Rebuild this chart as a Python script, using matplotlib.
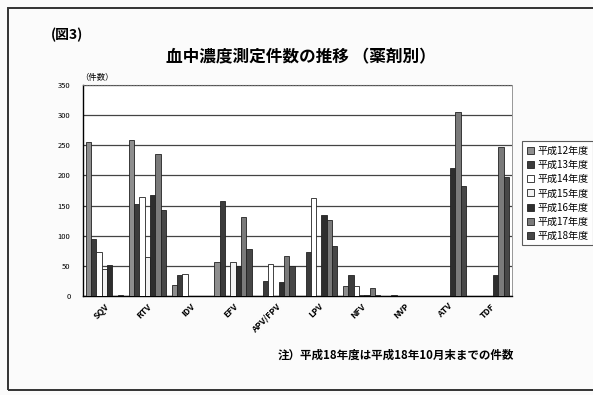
import numpy as np
import matplotlib as mpl
mpl.use('Agg')
from matplotlib import pyplot as plt
from matplotlib.patches import Rectangle

plt.rcParams['font.family'] = ['Noto Sans CJK JP', 'DejaVu Sans']

drugs = ['SQV', 'RTV', 'IDV', 'EFV', 'APV/FPV', 'LPV', 'NFV', 'NVP', 'ATV', 'TDF']
years = ['平成12年度', '平成13年度', '平成14年度', '平成15年度',
         '平成16年度', '平成17年度', '平成18年度']

h12 = [255, 258, 18, 56, 0, 0, 17, 1, 0, 0]
h13 = [95, 152, 35, 158, 25, 73, 36, 2, 0, 0]
h14 = [73, 165, 37, 0, 53, 163, 17, 1, 0, 0]
h15 = [45, 65, 0, 56, 0, 0, 2, 1, 0, 0]
h16 = [52, 168, 0, 50, 23, 134, 2, 1, 212, 35]
h17 = [0, 235, 0, 132, 66, 127, 13, 1, 305, 248]
h18 = [2, 143, 0, 78, 50, 84, 2, 1, 183, 198]
series = [h12, h13, h14, h15, h16, h17, h18]

colors = ['#8e8e8e', '#3c3c3c', '#ffffff', '#f2f2f2', '#2e2e2e', '#7a7a7a', '#474747']

fig = plt.figure(figsize=(5.93, 3.95), dpi=100)
fig.patch.set_facecolor('#fbfbfb')

# outer frame of the scanned figure
fig.patches.append(Rectangle((8 / 593, 5 / 395), 0.99, 382 / 395, transform=fig.transFigure,
                             fill=False, edgecolor='#333333', linewidth=1.4))

ax = fig.add_axes([0.140, 0.250, 0.723, 0.535])

x = np.arange(len(drugs))
bw = 0.124
for i, (vals, c) in enumerate(zip(series, colors)):
  ax.bar(x - 3 * bw + i * bw, vals, bw, color=c, edgecolor='#222222',
         linewidth=0.6, label=years[i], zorder=3)

ax.set_xlim(-0.5, len(drugs) - 0.5)
ax.set_ylim(0, 350)
ax.set_yticks(np.arange(0, 351, 50))
ax.tick_params(axis='y', labelsize=5.5, length=0, pad=9)
ax.tick_params(axis='x', length=0, pad=4)
ax.set_xticks(x)
ax.set_xticklabels(drugs, rotation=45, ha='right', rotation_mode='anchor',
                   fontsize=6.3, fontweight='bold')
ax.yaxis.grid(True, color='#444444', linewidth=0.9, zorder=0)
ax.set_axisbelow(True)
ax.spines['top'].set_linestyle(':')
ax.spines['top'].set_color('#666666')
ax.spines['right'].set_color('#888888')
ax.spines['right'].set_linewidth(0.6)
ax.spines['left'].set_linewidth(1.0)
ax.spines['bottom'].set_linewidth(1.0)

fig.text(0.086, 0.911, '(図3)', fontsize=10, fontweight='bold', ha='left', va='center')
fig.text(0.508, 0.856, '血中濃度測定件数の推移 （薬剤別）', fontsize=12,
         fontweight='bold', ha='center', va='center')
fig.text(0.135, 0.805, '（件数）', fontsize=6, ha='left', va='center')
fig.text(0.468, 0.101, '注）平成18年度は平成18年10月末までの件数', fontsize=8.3,
         fontweight='bold', ha='left', va='center')

leg = fig.legend(loc='upper left', bbox_to_anchor=(0.872, 0.655), fontsize=7.2,
                 frameon=True, fancybox=False, edgecolor='#333333',
                 handlelength=0.7, handleheight=0.7, handletextpad=0.4,
                 labelspacing=0.42, borderpad=0.45)
leg.get_frame().set_linewidth(0.8)

fig.savefig('out.png', dpi=100, facecolor=fig.get_facecolor())
